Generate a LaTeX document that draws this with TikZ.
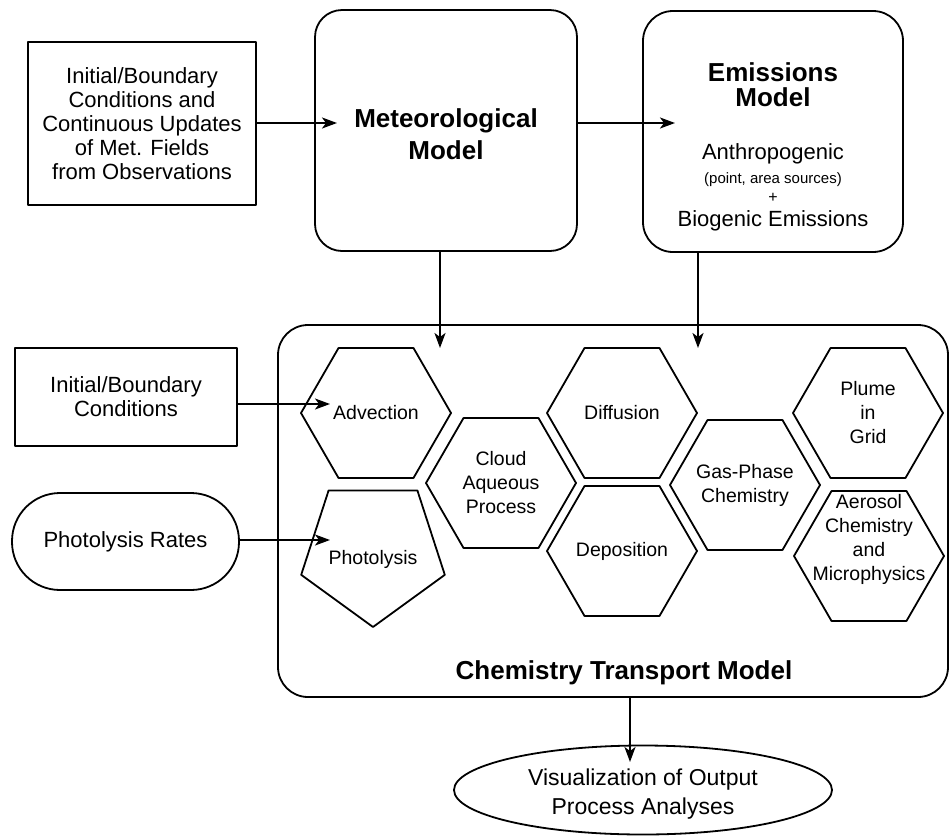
\documentclass[tikz,border=0pt]{standalone}
\usepackage{fontspec}
\setmainfont{Liberation Sans}
\usetikzlibrary{shapes.geometric,arrows.meta}
\begin{document}
\begin{tikzpicture}[x=1pt,y=-1pt,line width=1.8pt,line join=round,
	>={Stealth[length=15pt,width=11pt,inset=4pt]},
	font=\fontsize{22}{24}\selectfont,
	plainbox/.style={draw,rectangle,inner sep=0pt,align=center},
	modeltxt/.style={font=\fontsize{26}{32}\selectfont\bfseries,align=center},
	hexa/.style={draw,regular polygon,regular polygon sides=6,minimum size=150pt,inner sep=0pt},
	hexlbl/.style={font=\fontsize{19.5}{24}\selectfont,align=center}]
	\useasboundingbox (0,0) rectangle (951,839);
	% inputs and driving models
	\node[plainbox,minimum width=228pt,minimum height=163pt] (obs) at (142,123.5) {Initial/Boundary\\Conditions and\\Continuous Updates\\of Met. Fields\\from Observations};
	\node[plainbox,rounded corners=27pt,minimum width=262pt,minimum height=241pt,label={[modeltxt,yshift=-4pt]center:Meteorological\\Model}] (met) at (446,130.5) {};
	\node[plainbox,rounded corners=30pt,minimum width=260pt,minimum height=241pt] (emis) at (773,131.5) {};
	\node[modeltxt,font=\fontsize{26}{25}\selectfont\bfseries] (emistitle) at (773,85) {Emissions\\Model};
	\node[align=center] (emissrc) at (773,187) {Anthropogenic\\{\fontsize{15}{17}\selectfont (point, area sources)}\\[-5pt]{\fontsize{16}{17}\selectfont +}\\Biogenic Emissions};
	\node[plainbox,minimum width=222pt,minimum height=98pt] (ibc) at (126,397) {Initial/Boundary\\Conditions};
	\node[plainbox,rounded corners=48pt,minimum width=227pt,minimum height=97pt] (rates) at (125.5,541.5) {Photolysis Rates};
	% chemistry transport model
	\node[plainbox,rounded corners=30pt,minimum width=670pt,minimum height=372pt] (ctm) at (613,511) {};
	\node[font=\fontsize{26}{30}\selectfont\bfseries] (ctmtitle) at (624,673) {Chemistry Transport Model};
	\node[hexa,label={[hexlbl]center:Advection}] (adv) at (376,413) {};
	\node[hexa,label={[hexlbl]center:Cloud\\Aqueous\\Process}] (cloud) at (501,483) {};
	\node[hexa,label={[hexlbl]center:Diffusion}] (diff) at (622,413) {};
	\node[hexa,label={[hexlbl]center:Deposition}] (depo) at (622,551) {};
	\node[hexa,label={[hexlbl]center:Gas-Phase\\Chemistry}] (gas) at (745,485) {};
	\node[hexa,label={[hexlbl]center:Plume\\in\\Grid}] (plume) at (868,413) {};
	\node[hexa,label={[hexlbl,yshift=17pt]center:Aerosol\\Chemistry\\and\\Microphysics}] (aero) at (869,556) {};
	\node[draw,regular polygon,regular polygon sides=5,shape border rotate=180,minimum size=151pt,inner sep=0pt,label={[hexlbl,yshift=-8pt]center:Photolysis}] (pho) at (373,551.5) {};
	% output
	\node[draw,ellipse,minimum width=378pt,minimum height=89pt,inner sep=0pt,label={[align=center,font=\fontsize{23}{29}\selectfont,yshift=-4pt]center:Visualization of Output\\Process Analyses}] (vis) at (643,790) {};
	% arrows
	\coordinate (metin) at (337,123);
	\coordinate (emisin) at (675,123);
	\coordinate (advin) at (330,404);
	\coordinate (phoin) at (330,540);
	\coordinate (ctmin1) at (440,348);
	\coordinate (ctmin2) at (698,348);
	\coordinate (visin) at (630,762);
	\draw[->] (obs.east |- metin) -- (metin);
	\draw[->] (met.east |- emisin) -- (emisin);
	\draw[->] (ibc.east |- advin) -- (advin);
	\draw[->] (rates.east |- phoin) -- (phoin);
	\draw[->] (met.south -| ctmin1) -- (ctmin1);
	\draw[->] (emis.south -| ctmin2) -- (ctmin2);
	\draw[->] (ctm.south -| visin) -- (visin);
\end{tikzpicture}
\end{document}
